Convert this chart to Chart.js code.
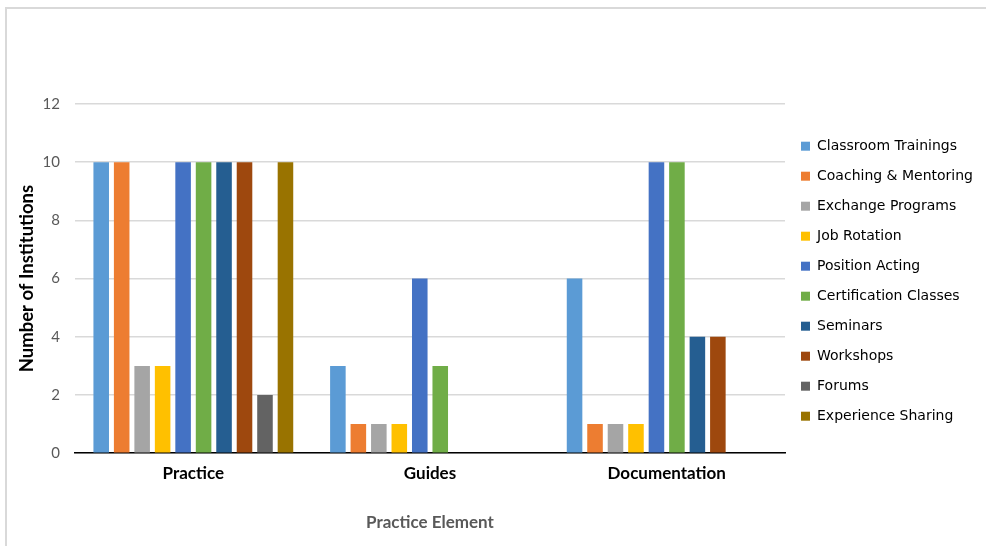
<!DOCTYPE html>
<html>
<head>
<meta charset="utf-8">
<script src="https://cdn.jsdelivr.net/npm/chart.js@4.4.0/dist/chart.umd.min.js"></script>
<style>
  html, body { margin: 0; padding: 0; background: #fff; }
  #wrap { position: relative; width: 986px; height: 546px; overflow: hidden; }
  #frame { position: absolute; left: 5px; top: 7px; width: 1200px; height: 800px;
           border-top: 2px solid #d9d9d9; border-left: 2px solid #d9d9d9; }
  #chart { position: absolute; left: 0; top: 0; }
</style>
</head>
<body>
<div id="wrap">
  <div id="frame"></div>
  <canvas id="chart" width="986" height="546"></canvas>
</div>
<script>
// practice elements on the x axis
const categories = ['Practice', 'Guides', 'Documentation'];

// one series per capacity building method
const seriesNames = [
  'Classroom Trainings', 'Coaching & Mentoring', 'Exchange Programs', 'Job Rotation',
  'Position Acting', 'Certification Classes', 'Seminars', 'Workshops', 'Forums',
  'Experience Sharing'
];
const classroomTrainings  = [10, 3, 6];
const coachingMentoring   = [10, 1, 1];
const exchangePrograms    = [3, 1, 1];
const jobRotation         = [3, 1, 1];
const positionActing      = [10, 6, 10];
const certificationClasses = [10, 3, 10];
const seminars            = [10, 0, 4];
const workshops           = [10, 0, 4];
const forums              = [2, 0, 0];
const experienceSharing   = [10, 0, 0];

const yTicks = [0, 2, 4, 6, 8, 10, 12];

const colors = ['#5b9bd5', '#ed7d31', '#a5a5a5', '#ffc000', '#4472c4',
                '#70ad47', '#255e91', '#9e480e', '#636363', '#997300'];

const allValues = [classroomTrainings, coachingMentoring, exchangePrograms, jobRotation,
  positionActing, certificationClasses, seminars, workshops, forums, experienceSharing];

const datasets = seriesNames.map((name, i) => ({
  label: name,
  data: allValues[i],
  backgroundColor: colors[i],
  borderWidth: 0,
  categoryPercentage: 0.865,
  barPercentage: 0.76
}));

new Chart(document.getElementById('chart'), {
  type: 'bar',
  data: { labels: categories, datasets: datasets },
  options: {
    responsive: false,
    animation: false,
    layout: { padding: { left: 3, right: 3, top: 104, bottom: 13 } },
    plugins: {
      tooltip: { enabled: false },
      legend: {
        position: 'right',
        align: 'start',
        // empty title only used to push the items down a little
        title: { display: true, text: ' ', font: { size: 1 }, padding: { top: 0, bottom: 18 } },
        labels: {
          boxWidth: 9,
          boxHeight: 9,
          padding: 16,
          color: '#000',
          font: { family: 'DejaVu Sans', size: 14 }
        }
      }
    },
    scales: {
      x: {
        grid: { display: false, drawTicks: false },
        border: { color: '#000', width: 1.5 },
        ticks: { color: '#000', padding: 10, font: { family: 'Lato', size: 17, weight: 'bold' } },
        title: {
          display: true,
          text: 'Practice Element',
          color: '#595959',
          padding: { top: 19, bottom: 0 },
          font: { family: 'Lato', size: 17, weight: 'bold' }
        }
      },
      y: {
        min: 0,
        max: 12,
        afterBuildTicks: (axis) => { axis.ticks = yTicks.map(v => ({ value: v })); },
        // fixed axis width so the plot starts where it should
        afterFit: (axis) => { axis.width = 72; },
        grid: { color: '#d9d9d9', lineWidth: 1.5, drawTicks: false },
        border: { display: false },
        ticks: { color: '#595959', padding: 15, font: { family: 'Lato', size: 15 } },
        title: {
          display: true,
          text: 'Number of Institutions',
          color: '#000',
          padding: { top: 13, bottom: 5 },
          font: { family: 'Lato', size: 18.5, weight: 'bold' }
        }
      }
    }
  }
});
</script>
</body>
</html>
